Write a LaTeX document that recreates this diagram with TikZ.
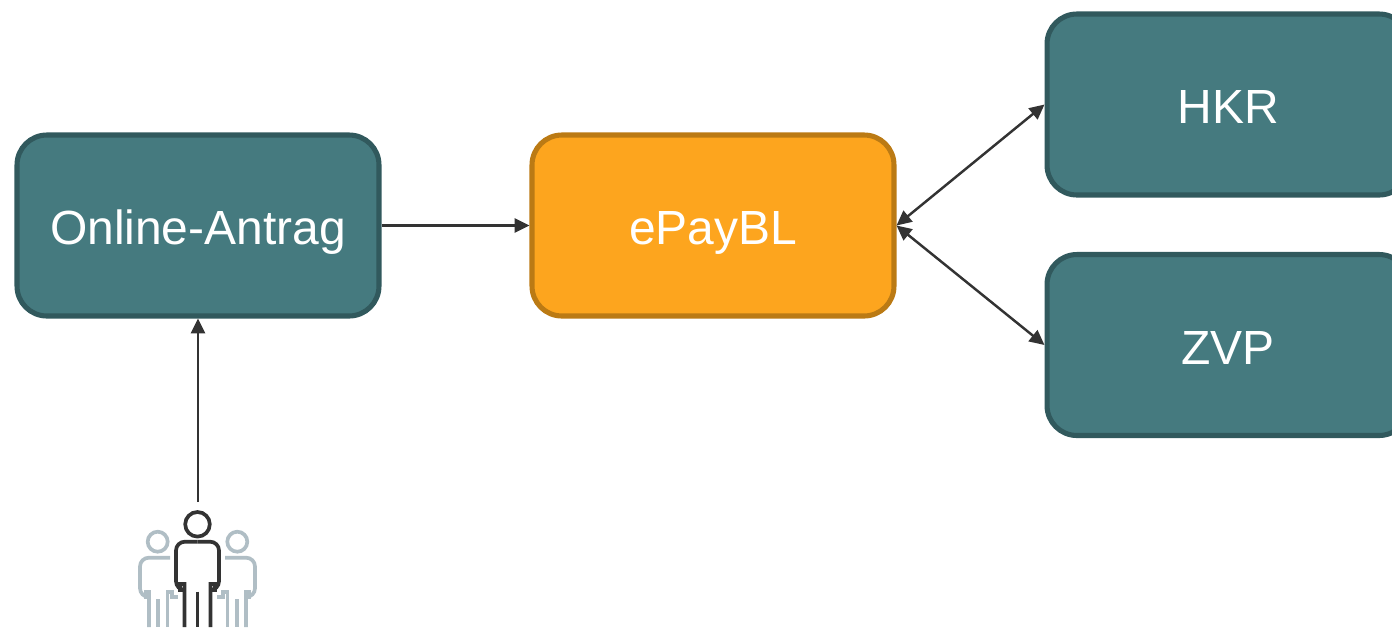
\documentclass[tikz,border=0pt]{standalone}
\usepackage{fontspec}
\setmainfont{Liberation Sans}
\usetikzlibrary{arrows.meta}
\definecolor{tealfill}{HTML}{457A7F}
\definecolor{tealline}{HTML}{31595D}
\definecolor{orangefill}{HTML}{FDA51E}
\definecolor{orangeline}{HTML}{BB7A14}
\definecolor{arrowgray}{HTML}{333333}
\definecolor{persongray}{HTML}{B0BEC5}
\tikzset{
  box/.style={draw=tealline, fill=tealfill, line width=2.9pt, rounded corners=17pt,
    minimum width=206pt, minimum height=103pt, text=white, font=\fontsize{27.3}{32}\selectfont,
    inner sep=0pt, text height=22pt, text depth=0pt},
  paybox/.style={box, draw=orangeline, fill=orangefill},
  link/.style={draw=arrowgray, line width=1.4pt, -{Triangle[length=8.5pt,width=8pt]}},
  twolink/.style={link, {Triangle[length=8.5pt,width=8pt]}-{Triangle[length=8.5pt,width=8pt]}},
  personline/.style={line width=2.1pt},
}
\begin{document}
\begin{tikzpicture}[x=0.02cm,y=-0.02cm]
  \useasboundingbox (0,0) rectangle (1392,627);

  % Kaesten
  \node[box] (online) at (198,225.5) {Online-Antrag};
  \node[paybox] (epay) at (713,225.5) {ePayBL};
  \node[box] (hkr) at (1228,104.5) {HKR};
  \node[box] (zvp) at (1228,345) {ZVP};

  % Pfeile
  \coordinate (userTop) at (198,502);
  \draw[link] (online.east) -- (epay.west);
  \draw[link] (userTop) -- (online.south);
  \draw[twolink] (epay.east) -- (hkr.west);
  \draw[twolink] (epay.east) -- (zvp.west);

  % Personen
  \foreach \s in {1,-1} {
    \begin{scope}[shift={(197.5,0)}, xscale=\s, personline]
      % grau
      \draw[persongray] (-39.8,541.7) circle (10);
      \draw[persongray] (-27.5,557.7) [rounded corners=5pt] -- (-57.5,557.7) -- (-57.5,597) [sharp corners] -- (-51.5,597) -- (-51.5,592) -- (-48.5,592) -- (-48.5,627);
      \draw[persongray] (-39.2,599) -- (-39.2,627);
      \draw[persongray] (-30,627) -- (-30,592) -- (-25.5,592) -- (-25.5,597) -- (-19.5,597);
      % schwarz
      \draw[arrowgray] (0,541.7) [rounded corners=5pt] -- (-21.5,541.7) -- (-21.5,590) [sharp corners] -- (-17.5,590) -- (-17.5,584) -- (-13,584) -- (-13,627);
    \end{scope}
  }
  \draw[arrowgray, personline] (197.5,524.3) circle (12.3);
  \draw[arrowgray, personline] (197.5,591.7) -- (197.5,627);
\end{tikzpicture}
\end{document}
